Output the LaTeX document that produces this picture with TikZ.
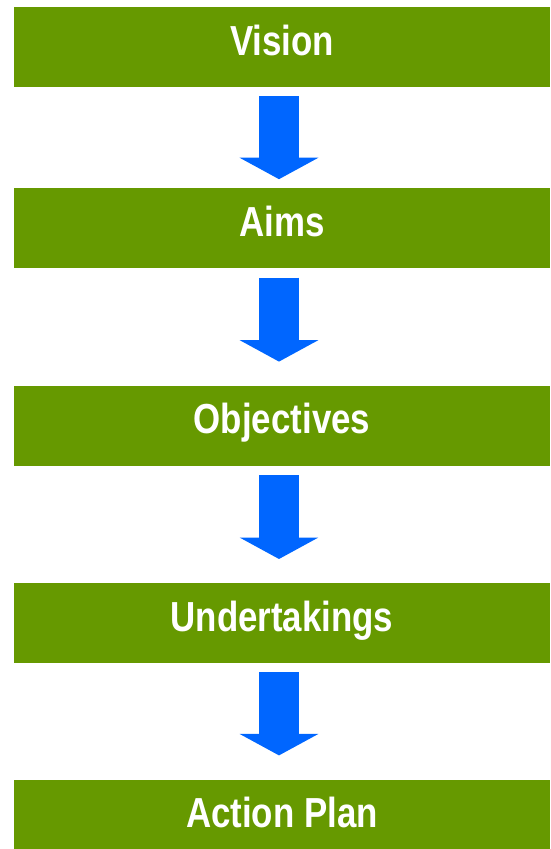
\documentclass[tikz,border=0pt]{standalone}
\usepackage{fontspec}
\newfontfamily\stagefont{Liberation Sans}[FakeStretch=0.83]
\usetikzlibrary{positioning}
\usetikzlibrary{arrows.meta}

\definecolor{stagegreen}{RGB}{102,153,0}
\definecolor{flowblue}{RGB}{0,102,255}

\begin{document}
\begin{tikzpicture}[x=1pt,y=1pt,
	box/.style={rectangle,fill=stagegreen,text=white,minimum width=536pt,minimum height=80pt,
		inner sep=0pt,text height=30pt,text depth=14pt,font=\stagefont\bfseries\fontsize{42}{50}\selectfont},
	flow/.style={draw=flowblue,line width=40pt,-{Triangle[width=78pt,length=21.5pt]},shorten <=9pt,shorten >=24pt}
	]
	\path [use as bounding box,clip] (0,0) rectangle (550,-849);

	\node [box] (vision)	at (282,-47)	{Vision};
	\node [box] (aims)		[below=101pt of vision]	{Aims};
	\node [box] (objectives)	[below=117pt of aims]	{Objectives};
	\node [box] (undertakings)	[below=117pt of objectives]	{Undertakings};
	\node [box] (plan)		[below=116pt of undertakings]	{Action Plan};

	\draw [flow] ([xshift=-3pt]vision.south) [shorten >=9pt]	to ([xshift=-3pt]aims.north);
	\draw [flow] ([xshift=-3pt]aims.south) 		to ([xshift=-3pt]objectives.north);
	\draw [flow] ([xshift=-3pt]objectives.south) 	to ([xshift=-3pt]undertakings.north);
	\draw [flow] ([xshift=-3pt]undertakings.south) 	to ([xshift=-3pt]plan.north);

\end{tikzpicture}
\end{document}
